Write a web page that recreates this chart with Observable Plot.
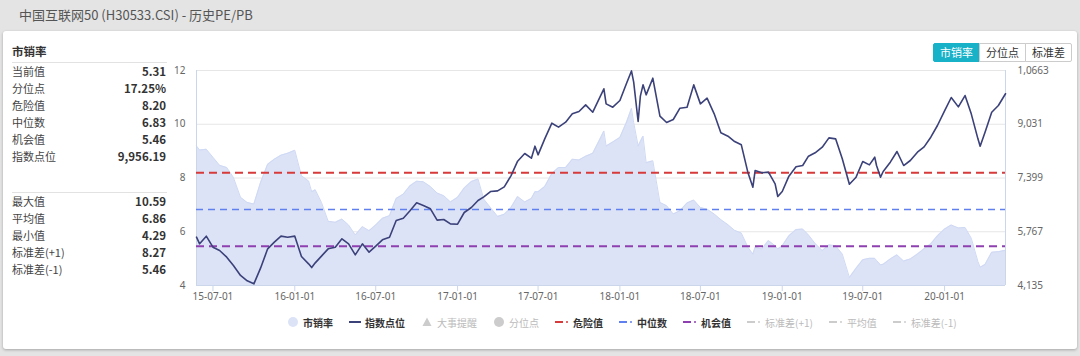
<!DOCTYPE html>
<html>
<head>
<meta charset="utf-8">
<script src="https://cdn.jsdelivr.net/npm/d3@7"></script>
<script src="https://cdn.jsdelivr.net/npm/@observablehq/plot@0.6"></script>
<style>
html,body{margin:0;padding:0;}
body{width:1080px;height:356px;background:#e4e4e4;font-family:"Noto Sans CJK SC","Noto Sans",sans-serif;position:relative;overflow:hidden;}
#title{position:absolute;left:19px;top:4px;font-size:13px;color:#555;line-height:22px;white-space:nowrap;}
#card{position:absolute;left:3px;top:31px;width:1074px;height:318px;background:#fff;border-radius:3px;box-shadow:0 1px 3px rgba(0,0,0,0.28);}
#paneltitle{position:absolute;left:12px;top:43px;height:17px;line-height:17px;font-size:11.5px;font-weight:bold;color:#333;}
.divider{position:absolute;left:12px;width:155px;height:1px;background:#e2e2e2;}
.stats{position:absolute;left:12px;width:154px;}
.row{height:17px;line-height:17px;display:flex;justify-content:space-between;font-size:11px;color:#444;}
.row b{color:#333;font-size:11.5px;}
#buttons{position:absolute;left:934px;top:43px;display:flex;}
.btn{width:45px;height:17px;line-height:17px;text-align:center;font-size:11px;color:#333;border:1px solid #ccc;margin-left:-1px;background:#fff;}
.btn.on{background:#17b1c8;border-color:#17b1c8;color:#fff;}
.btn:first-child{border-radius:2px 0 0 2px;}
.btn:last-child{border-radius:0 2px 2px 0;}
#chart{position:absolute;left:150px;top:60px;}
#legend{position:absolute;left:287px;top:313px;height:18px;display:flex;align-items:center;gap:16px;font-size:10px;}
.li{display:flex;align-items:center;gap:4px;white-space:nowrap;}
.li svg{display:block;}
</style>
</head>
<body>
<div id="title"></div>
<div id="card"></div>
<div id="paneltitle"></div>
<div class="divider" style="top:62px"></div>
<div class="stats" id="stats1" style="top:63px"></div>
<div class="divider" style="top:192px"></div>
<div class="stats" id="stats2" style="top:193px"></div>
<div id="buttons"></div>
<div id="chart"></div>
<div id="legend"></div>
<script>
// ---------- data ----------
const chartTitle = "中国互联网50 (H30533.CSI) - 历史PE/PB";
const metricName = "市销率";
const statLabelsTop = ["当前值","分位点","危险值","中位数","机会值","指数点位"];
const statValuesTop = ["5.31","17.25%","8.20","6.83","5.46","9,956.19"];
const statLabelsBottom = ["最大值","平均值","最小值","标准差(+1)","标准差(-1)"];
const statValuesBottom = ["10.59","6.86","4.29","8.27","5.46"];
const buttonLabels = ["市销率","分位点","标准差"];

const dates = [
  "2015-05-25","2015-06-01","2015-06-16","2015-07-01","2015-07-16","2015-08-01","2015-08-16","2015-09-01","2015-09-16","2015-10-01","2015-10-16","2015-11-01","2015-11-16","2015-12-01","2015-12-16",
  "2016-01-01","2016-01-16","2016-02-01","2016-02-08","2016-02-16","2016-03-01","2016-03-16","2016-04-01","2016-04-16","2016-05-01","2016-05-16","2016-06-01","2016-06-16","2016-07-01","2016-07-16","2016-08-01","2016-08-16","2016-09-01","2016-09-16","2016-10-01","2016-10-16","2016-11-01","2016-11-16","2016-12-01","2016-12-16",
  "2017-01-01","2017-01-16","2017-02-01","2017-02-16","2017-03-01","2017-03-16","2017-04-01","2017-04-16","2017-05-01","2017-05-16","2017-06-01","2017-06-16","2017-06-24","2017-07-01","2017-07-16","2017-08-01","2017-08-16","2017-09-01","2017-09-16","2017-10-01","2017-10-16","2017-11-01","2017-11-16","2017-11-26","2017-12-01","2017-12-16",
  "2018-01-01","2018-01-16","2018-01-27","2018-02-01","2018-02-11","2018-02-16","2018-02-22","2018-03-01","2018-03-16","2018-04-01","2018-04-16","2018-05-01","2018-05-16","2018-06-01","2018-06-16","2018-07-01","2018-07-16","2018-08-01","2018-08-16","2018-09-01","2018-09-16","2018-10-01","2018-10-16","2018-10-27","2018-11-01","2018-11-16","2018-12-01","2018-12-16","2018-12-22",
  "2019-01-01","2019-01-16","2019-02-01","2019-02-16","2019-03-01","2019-03-16","2019-04-01","2019-04-16","2019-05-01","2019-05-16","2019-06-01","2019-06-16","2019-07-01","2019-07-16","2019-07-28","2019-08-01","2019-08-10","2019-08-16","2019-09-01","2019-09-16","2019-10-01","2019-10-16","2019-11-01","2019-11-16","2019-12-01","2019-12-16",
  "2020-01-01","2020-01-16","2020-02-01","2020-02-16","2020-03-01","2020-03-16","2020-03-21","2020-04-01","2020-04-16","2020-05-01","2020-05-17"
];
const psValues = [
  9.19,9.04,9.07,8.77,8.47,8.39,8.02,7.28,7.09,7.03,7.83,8.51,8.70,8.85,8.92,
  9.03,8.08,7.89,7.49,7.56,7.09,6.39,6.35,6.47,6.25,5.88,6.19,6.04,6.25,6.50,6.60,7.24,7.40,7.71,7.88,7.86,7.68,7.44,7.34,7.11,
  7.28,7.63,7.87,7.96,7.21,6.90,6.57,6.65,6.90,7.31,7.11,7.24,7.49,7.49,7.68,8.17,8.39,8.39,8.70,8.67,8.81,8.92,9.41,9.75,9.19,9.34,
  9.51,10.08,10.59,10.06,9.19,9.36,9.56,8.57,8.64,7.09,6.97,6.66,6.78,7.07,7.18,6.90,6.84,6.66,6.45,6.26,6.05,5.95,5.42,5.17,5.42,5.36,5.67,5.48,5.36,
  5.48,5.85,6.08,6.10,5.88,5.56,5.30,5.51,5.48,5.17,4.30,4.64,4.96,5.01,5.01,4.93,4.77,4.79,4.99,5.14,4.91,4.99,5.17,5.37,5.55,5.85,
  6.10,6.25,6.14,6.16,5.76,4.89,4.68,4.78,5.24,5.26,5.31
];
const indexValues = [
  5602,5400,5633,5299,5198,4995,4742,4439,4277,4186,4661,5248,5451,5633,5602,
  5633,5015,4793,4680,4823,5026,5248,5299,5552,5400,5066,5400,5147,5329,5521,5602,6108,6179,6402,6645,6564,6463,6119,6139,6007,
  5997,6351,6503,6716,6827,6989,7009,7131,7464,7910,8143,8001,8365,8102,8588,9063,8942,9094,9347,9418,9620,9397,9822,10106,9650,9549,
  9752,10278,10650,10308,9114,9883,10227,9924,10430,9276,9084,9175,9519,9549,10227,9650,9822,9347,8770,8669,8507,8406,7556,7120,7626,7556,7576,7222,6837,
  6989,7454,7738,7778,8062,8163,8335,8618,8588,7981,7211,7424,7900,7798,8031,7778,7424,7596,7879,8203,7778,7930,8183,8345,8638,8993,
  9438,9843,9559,9903,9347,8588,8365,8790,9397,9600,9956.19
];
const dangerValue = 8.20;
const medianValue = 6.83;
const chanceValue = 5.46;
const leftTicks = [4, 6, 8, 10, 12];
const rightTickValues = [4135, 5767, 7399, 9031, 10663];
const rightTickLabels = ["4,135","5,767","7,399","9,031","1,0663"];
const xTickDates = ["2015-07-01","2016-01-01","2016-07-01","2017-01-01","2017-07-01","2018-01-01","2018-07-01","2019-01-01","2019-07-01","2020-01-01"];
const legendNames = ["市销率","指数点位","大事提醒","分位点","危险值","中位数","机会值","标准差(+1)","平均值","标准差(-1)"];
const legendKinds = ["circle","line","triangle","circle","dashdot","dashdot","dashdot","dashdot","dashdot","dashdot"];
const legendActive = [true,true,false,false,true,true,true,false,false,false];

// ---------- colors ----------
const areaFill = "#dce3f7", areaEdge = "#cfd9f4", lineColor = "#3b4179";
const dangerColor = "#d63a3a", medianColor = "#5f80ee", chanceColor = "#8e3fb0";
const legendColors = [areaFill, lineColor, "#cccccc", "#cccccc", dangerColor, medianColor, chanceColor, "#cccccc", "#cccccc", "#cccccc"];

// ---------- page text ----------
document.getElementById("title").textContent = chartTitle;
document.getElementById("paneltitle").textContent = metricName;
function fillStats(id, labels, values) {
  const el = document.getElementById(id);
  labels.forEach((l, i) => {
    const r = document.createElement("div");
    r.className = "row";
    const a = document.createElement("span"); a.textContent = l;
    const b = document.createElement("b"); b.textContent = values[i];
    r.appendChild(a); r.appendChild(b); el.appendChild(r);
  });
}
fillStats("stats1", statLabelsTop, statValuesTop);
fillStats("stats2", statLabelsBottom, statValuesBottom);
buttonLabels.forEach((t, i) => {
  const b = document.createElement("div");
  b.className = "btn" + (i === 0 ? " on" : "");
  b.textContent = t;
  document.getElementById("buttons").appendChild(b);
});

// ---------- chart ----------
const parse = d3.utcParse("%Y-%m-%d");
const rows = dates.map((d, i) => ({date: parse(d), ps: psValues[i], idx: indexValues[i]}));
const idxToLeft = d3.scaleLinear()
  .domain([rightTickValues[0], rightTickValues[rightTickValues.length - 1]])
  .range([leftTicks[0], leftTicks[leftTicks.length - 1]]);
const xStart = rows[0].date, xEnd = rows[rows.length - 1].date;
const yMin = leftTicks[0], yMax = leftTicks[leftTicks.length - 1];

const plot = Plot.plot({
  width: 900,
  height: 245,
  marginLeft: 46,
  marginRight: 45,
  marginTop: 10,
  marginBottom: 20,
  style: {fontFamily: "'Noto Sans', sans-serif", fontSize: "10px", background: "transparent", overflow: "visible"},
  x: {type: "utc", domain: [xStart, xEnd], label: null},
  y: {domain: [yMin, yMax], label: null},
  marks: [
    Plot.ruleY(leftTicks, {stroke: "#e6e6e6", strokeWidth: 1}),
    Plot.areaY(rows, {x: "date", y1: yMin, y2: "ps", fill: areaFill}),
    Plot.lineY(rows, {x: "date", y: "ps", stroke: areaEdge, strokeWidth: 1}),
    Plot.ruleY([yMin], {stroke: "#ccd6eb"}),
    Plot.ruleX([xStart, xEnd], {stroke: "#ccd6eb"}),
    Plot.ruleY([dangerValue], {stroke: dangerColor, strokeWidth: 2, strokeDasharray: "8,5"}),
    Plot.ruleY([medianValue], {stroke: medianColor, strokeWidth: 1.5, strokeDasharray: "7,5"}),
    Plot.ruleY([chanceValue], {stroke: chanceColor, strokeWidth: 2, strokeDasharray: "8,5"}),
    Plot.line(rows, {x: "date", y: d => idxToLeft(d.idx), stroke: lineColor, strokeWidth: 1.6}),
    Plot.axisX({ticks: xTickDates.map(parse), tickFormat: d3.utcFormat("%y-%m-%d"), tickSize: 6, tickPadding: 1, stroke: "#ccd6eb", fill: "#666", label: null}),
    Plot.axisY({anchor: "left", ticks: leftTicks, tickSize: 0, tickPadding: 11, tickFormat: d => String(d), fill: "#666", label: null}),
    Plot.axisY({anchor: "right", ticks: leftTicks, tickSize: 0, tickPadding: 12, tickFormat: d => rightTickLabels[leftTicks.indexOf(d)], fill: "#666", label: null})
  ]
});
document.getElementById("chart").appendChild(plot);

// ---------- legend ----------
const NS = "http://www.w3.org/2000/svg";
function marker(kind, color) {
  const s = document.createElementNS(NS, "svg");
  let w = 12;
  if (kind === "dashdot") w = 14;
  s.setAttribute("width", w); s.setAttribute("height", 12);
  let el;
  if (kind === "circle") {
    el = document.createElementNS(NS, "circle");
    el.setAttribute("cx", 6); el.setAttribute("cy", 6); el.setAttribute("r", 5);
    el.setAttribute("fill", color);
  } else if (kind === "line") {
    el = document.createElementNS(NS, "line");
    el.setAttribute("x1", 0); el.setAttribute("x2", 12); el.setAttribute("y1", 6); el.setAttribute("y2", 6);
    el.setAttribute("stroke", color); el.setAttribute("stroke-width", 2);
  } else if (kind === "triangle") {
    el = document.createElementNS(NS, "path");
    el.setAttribute("d", "M6,1.5L10.5,10H1.5Z");
    el.setAttribute("fill", color);
  } else {
    el = document.createElementNS(NS, "g");
    const l = document.createElementNS(NS, "line");
    l.setAttribute("x1", 0); l.setAttribute("x2", 8); l.setAttribute("y1", 6); l.setAttribute("y2", 6);
    l.setAttribute("stroke", color); l.setAttribute("stroke-width", 2);
    const c = document.createElementNS(NS, "circle");
    c.setAttribute("cx", 12); c.setAttribute("cy", 6); c.setAttribute("r", 1);
    c.setAttribute("fill", color);
    el.appendChild(l); el.appendChild(c);
  }
  s.appendChild(el);
  return s;
}
legendNames.forEach((name, i) => {
  const item = document.createElement("div");
  item.className = "li";
  item.appendChild(marker(legendKinds[i], legendColors[i]));
  const t = document.createElement("span");
  t.textContent = name;
  t.style.color = legendActive[i] ? "#333" : "#bbb";
  t.style.fontWeight = legendActive[i] ? "bold" : "normal";
  item.appendChild(t);
  document.getElementById("legend").appendChild(item);
});
</script>
</body>
</html>
